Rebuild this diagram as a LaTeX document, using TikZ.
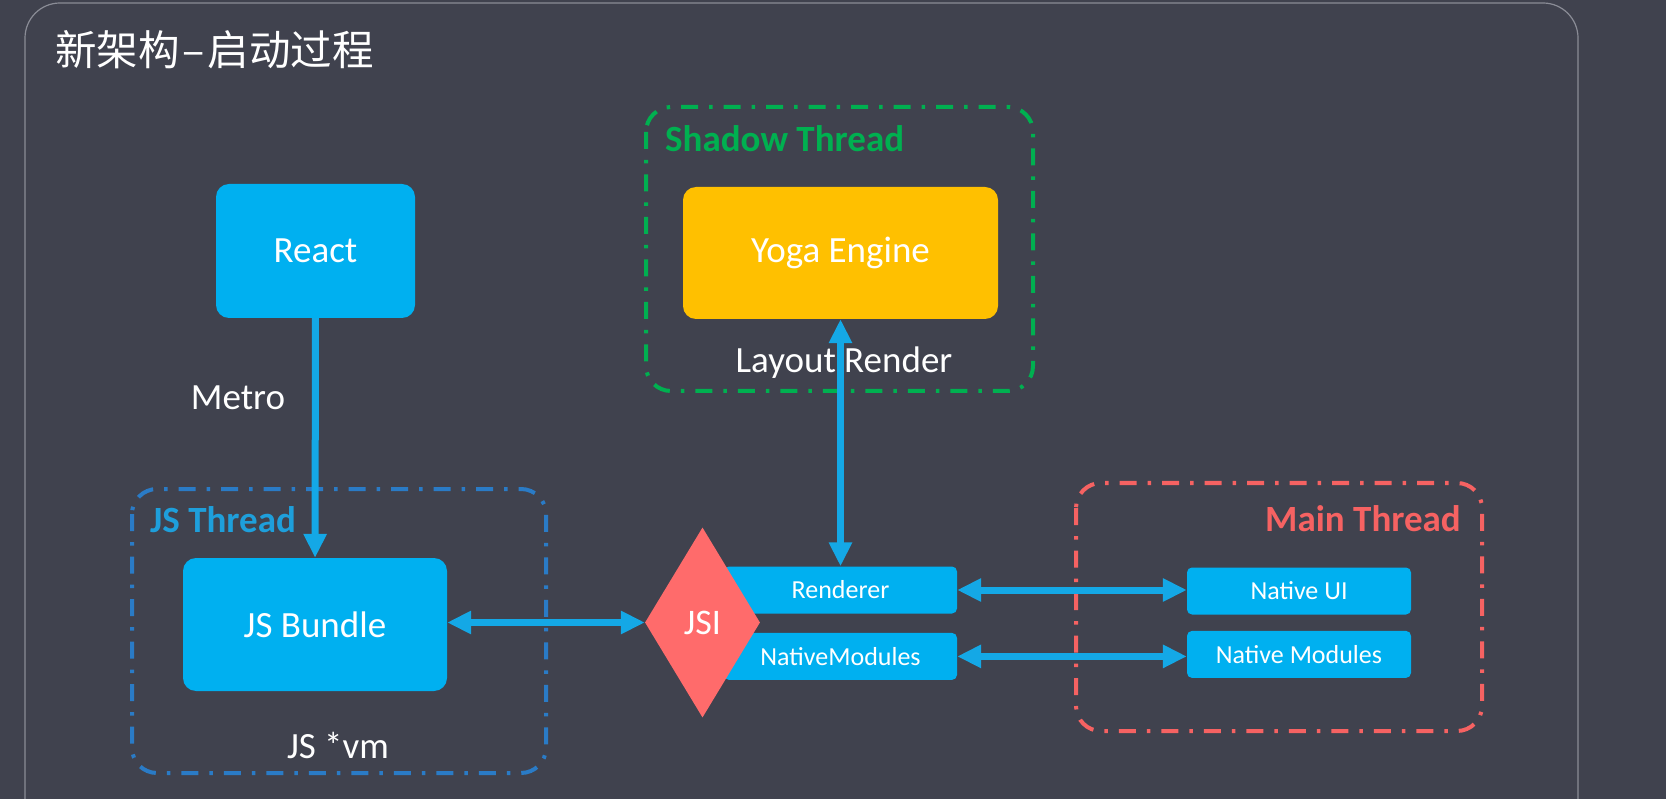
\documentclass[tikz,border=0pt]{standalone}
\usepackage{fontspec}
\setmainfont{Carlito}
\newfontfamily\cjk{Noto Sans CJK SC}
\usetikzlibrary{arrows.meta,positioning,shapes.geometric}

\definecolor{bg}{HTML}{40424E}
\definecolor{panelline}{HTML}{8A8C96}
\definecolor{boxblue}{HTML}{00B0F0}
\definecolor{linkblue}{HTML}{14A8E6}
\definecolor{yogagold}{HTML}{FFC000}
\definecolor{jsired}{HTML}{FF6B6B}
\definecolor{shadowgreen}{HTML}{00B050}
\definecolor{jsblue}{HTML}{2A7BC6}
\definecolor{jstext}{HTML}{1E9FDB}
\definecolor{mainred}{HTML}{F66262}

\begin{document}
\begin{tikzpicture}[x=1pt,y=-1pt,>={Triangle[length=24pt,width=22pt]},
                    text=white,font=\fontsize{37}{42}\selectfont]

  \tikzstyle{bigbox}=[rectangle,rounded corners=13pt,fill=boxblue,inner sep=0pt]
  \tikzstyle{smallbox}=[rectangle,rounded corners=5pt,fill=boxblue,inner sep=0pt,
                        minimum height=47pt,font=\fontsize{26}{30}\selectfont]
  \tikzstyle{frame}=[line width=4pt,rounded corners=25pt,
                     dash pattern=on 17pt off 11pt on 3.5pt off 11pt]
  \tikzstyle{framelabel}=[anchor=west,inner sep=0pt,font=\bfseries\fontsize{37}{42}\selectfont]
  \tikzstyle{link}=[draw=linkblue,line width=7pt]

  \useasboundingbox (0,0) rectangle (1666,799);
  \clip (0,0) rectangle (1666,799);
  \fill[bg] (0,0) rectangle (1666,799);
  \draw[panelline,line width=1.2pt,rounded corners=35pt] (25,3) rectangle (1578,860);

  \node[anchor=west,inner sep=0pt,font=\cjk\fontsize{41.5}{48}\selectfont] (title) at (55,50) {新架构\kern3pt–\kern3pt启动过程};

  % thread frames
  \draw[frame,jsblue]      (132,489) rectangle (546,773);
  \draw[frame,shadowgreen] (646,107) rectangle (1033,391);
  \draw[frame,mainred]     (1076,483) rectangle (1482,731);
  \node[framelabel,text=jstext]      (jsthread)     at (150,520)  {JS Thread};
  \node[framelabel,text=shadowgreen] (shadowthread) at (665,139)  {Shadow Thread};
  \node[framelabel,text=mainred,anchor=east] (mainthread) at (1461,519) {Main Thread};

  % boxes
  \node[bigbox,minimum width=199pt,minimum height=134pt] (react)  at (315.5,251) {React};
  \node[bigbox,minimum width=264pt,minimum height=133pt] (bundle) at (315,624.5) {JS Bundle};
  \node[bigbox,fill=yogagold,minimum width=315pt,minimum height=132pt] (yoga) at (840.5,253) {Yoga Engine};

  \node[smallbox,minimum width=233pt] (renderer) at (840.5,590) {Renderer};
  \node[smallbox,minimum width=233pt] (natmods)  [below=19pt of renderer] {NativeModules};
  \node[smallbox,minimum width=224pt] (nativeui) at (1299,591) {Native UI};
  \node[smallbox,minimum width=224pt] (nativemod) [below=16pt of nativeui] {Native Modules};

  \node[diamond,fill=jsired,inner sep=0pt,minimum width=115pt,minimum height=190pt,
        font=\fontsize{36}{40}\selectfont] (jsi) at (702.5,622.5) {JSI};

  % plain labels
  \node (metro)  at (238,398) {Metro};
  \node (layout) at (844,363) {Layout Render};
  \node (jsvm)   at (338,745) {JS *vm};

  % connectors
  \draw[link,->]  (react) -- (bundle);
  \draw[link,<->] (bundle.east |- jsi) -- (jsi.west);
  \draw[link,<->] (yoga) -- (renderer);
  \draw[link,<->] (renderer) -- (nativeui.west |- renderer);
  \draw[link,<->] (natmods) -- (nativemod.west |- natmods);
\end{tikzpicture}
\end{document}
